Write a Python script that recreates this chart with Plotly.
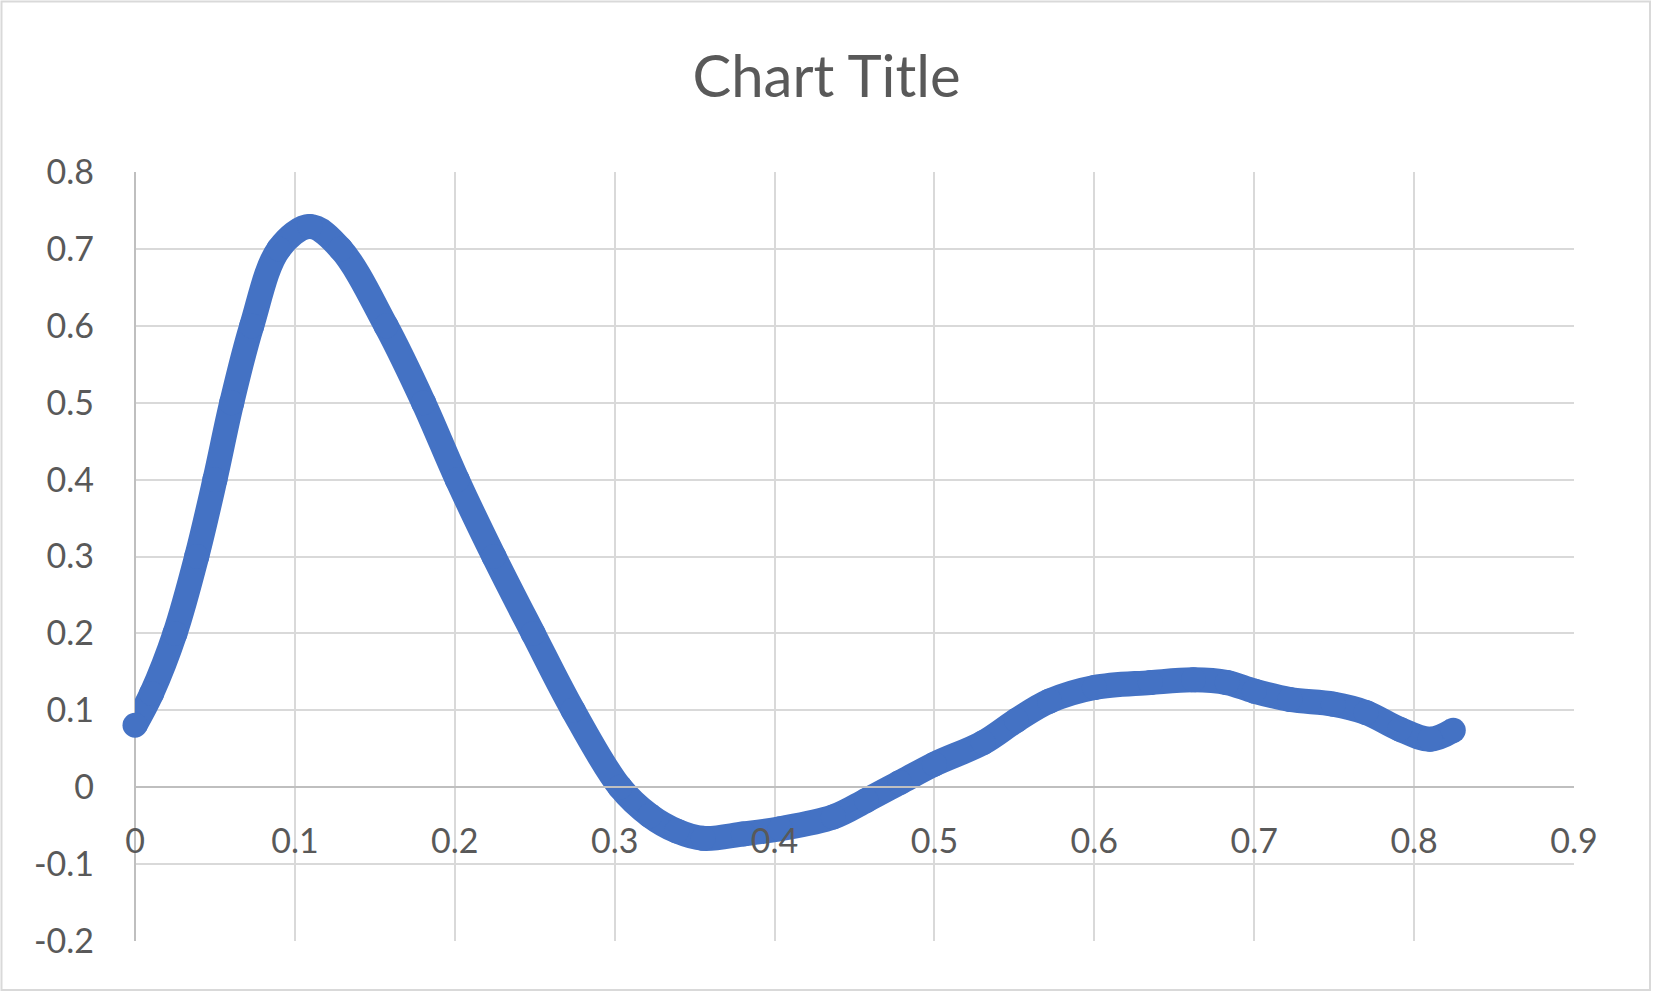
import plotly.graph_objects as go

x_vals = [0.0, 0.0104, 0.025, 0.0386, 0.050, 0.0605, 0.073, 0.090, 0.1094,
          0.1286, 0.157, 0.1805, 0.2015, 0.2245, 0.249, 0.274,
          0.3033, 0.322, 0.3388, 0.3554, 0.3805, 0.4035, 0.4367, 0.4575, 0.4783, 0.500,
          0.5305, 0.5513, 0.572, 0.600, 0.635, 0.662, 0.683, 0.700, 0.7223, 0.7494,
          0.770, 0.791, 0.810, 0.8245]
y_vals = [0.0806, 0.122, 0.200, 0.300, 0.400, 0.500, 0.600, 0.700, 0.729,
          0.700, 0.600, 0.500, 0.400, 0.300, 0.200, 0.100,
          0.000, -0.037, -0.057, -0.0665, -0.0607, -0.054, -0.0386, -0.017, 0.006, 0.030,
          0.058, 0.087, 0.112, 0.1296, 0.136, 0.1396, 0.136, 0.125, 0.114, 0.108,
          0.097, 0.0754, 0.0624, 0.074]

x_ticks = [0, 0.1, 0.2, 0.3, 0.4, 0.5, 0.6, 0.7, 0.8, 0.9]
x_tick_text = ["0", "0.1", "0.2", "0.3", "0.4", "0.5", "0.6", "0.7", "0.8", "0.9"]
y_ticks = [-0.2, -0.1, 0, 0.1, 0.2, 0.3, 0.4, 0.5, 0.6, 0.7, 0.8]
y_tick_text = ["-0.2", "-0.1", "0", "0.1", "0.2", "0.3", "0.4", "0.5", "0.6", "0.7", "0.8"]

W, H = 1653, 993
ML, MR, MT, MB = 135, 79, 172, 52
PW, PH = W - ML - MR, H - MT - MB

FONT = "Lato"
TXT = "#595959"
GRID = "#D9D9D9"
AXIS = "#BFBFBF"
BLUE = "#4472C4"

fig = go.Figure()
fig.add_trace(go.Scatter(
    x=x_vals, y=y_vals, mode="lines+markers",
    line=dict(color=BLUE, width=25, shape="spline", smoothing=1.0),
    marker=dict(color=BLUE, size=25, line=dict(width=0)),
    cliponaxis=False,
    showlegend=False, hoverinfo="skip",
))

ymin, ymax = -0.2, 0.8
zero_pos = (0 - ymin) / (ymax - ymin)

fig.update_layout(
    width=W, height=H,
    margin=dict(l=ML, r=MR, t=MT, b=MB, pad=0, autoexpand=False),
    paper_bgcolor="white", plot_bgcolor="white",
    font=dict(family=FONT, color=TXT, size=34),
    title=dict(text="Chart Title", x=0.5, xanchor="center", y=1 - 77 / H, yanchor="middle",
               xref="container", yref="container",
               font=dict(family=FONT, size=58, color=TXT)),
    xaxis=dict(
        range=[0, 0.9], tickvals=x_ticks, ticktext=x_tick_text,
        showgrid=True, gridcolor=GRID, gridwidth=2,
        zeroline=True, zerolinecolor=AXIS, zerolinewidth=2,
        anchor="free", position=zero_pos, side="bottom",
        showline=True, linecolor=AXIS, linewidth=2,
        ticks="", ticklabelstandoff=24,
        tickfont=dict(family=FONT, size=34, color=TXT),
        automargin=False, fixedrange=True,
    ),
    yaxis=dict(
        range=[ymin, ymax], tickvals=y_ticks, ticktext=y_tick_text,
        showgrid=True, gridcolor=GRID, gridwidth=2,
        zeroline=False,
        showline=False, ticks="", ticklabelstandoff=40,
        tickfont=dict(family=FONT, size=34, color=TXT),
        automargin=False, fixedrange=True,
    ),
)

# outer chart border
def px_to_paper_x(px):
    return (px - ML) / PW

def px_to_paper_y(py):
    return (H - MB - py) / PH

fig.add_shape(type="rect", xref="paper", yref="paper",
              x0=px_to_paper_x(1.5), x1=px_to_paper_x(W - 3),
              y0=px_to_paper_y(H - 3), y1=px_to_paper_y(1.5),
              line=dict(color=GRID, width=2), fillcolor="rgba(0,0,0,0)", layer="below")

fig.write_html("out.html", config={"displayModeBar": False},
               post_script="document.body.style.margin='0';document.body.style.overflow='hidden';")
